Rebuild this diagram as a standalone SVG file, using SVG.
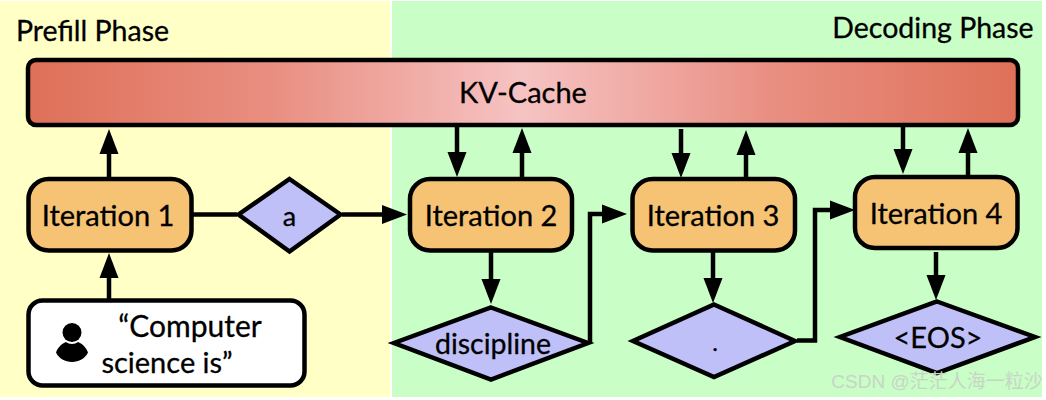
<svg xmlns="http://www.w3.org/2000/svg" width="1046" height="400" viewBox="0 0 1046 400">
<style>
text{font-family:"Lato","Noto Sans",sans-serif;fill:#000;text-anchor:middle;stroke:#000;stroke-width:.3}
.t{font-size:29px}
.box{fill:#f5c373;stroke:#000;stroke-width:4.500}
.dia{fill:#c0c0f8;stroke:#000;stroke-width:4.500;stroke-linejoin:miter}
.c{fill:none;stroke:#000;stroke-width:4.500;marker-end:url(#a)}
.p{fill:none;stroke:#000;stroke-width:4.500}
</style>
<defs>
<linearGradient id="g" x1="0" y1="0" x2="1" y2="0">
<stop offset="0" stop-color="#de7058"/><stop offset=".25" stop-color="#e98f82"/><stop offset=".5" stop-color="#f6c3c3"/><stop offset=".75" stop-color="#e98f82"/><stop offset="1" stop-color="#de7058"/>
</linearGradient>
<marker id="a" markerUnits="userSpaceOnUse" markerWidth="26" markerHeight="20" refX="0" refY="10" orient="auto" viewBox="0 0 26 20">
<path d="M0 0.5L25 10L0 19.5Z" fill="#000"/>
</marker>
</defs>
<rect width="1046" height="400" fill="#fff"/>
<rect x="0" y="1" width="390" height="396" fill="#ffffc6"/>
<rect x="392" y="1" width="650" height="396" fill="#c9ffc6"/>
<text id="prefill-label" x="92.500" y="41" font-size="28.500px">Prefill Phase</text>
<text id="decoding-label" x="933" y="38" font-size="28.500px">Decoding Phase</text>
<g id="connectors">
<path class="c" d="M109 178V154"/>
<path class="c" d="M109 299V278"/>
<path class="p" d="M192 214.500H237"/>
<path class="c" d="M342 214.500H382"/>
<path class="c" d="M457 125V152"/>
<path class="c" d="M522 178V153"/>
<path class="c" d="M491 252V279"/>
<path class="c" d="M590 343V214H602"/>
<path class="c" d="M681 129V153"/>
<path class="c" d="M746 178V155"/>
<path class="c" d="M713 252V278"/>
<path class="c" d="M797 340.500H815V210H830"/>
<path class="c" d="M903 125V149"/>
<path class="c" d="M968 175V153"/>
<path class="c" d="M936 252V275"/>
</g>
<g id="kv-cache"><rect x="28" y="60" width="990" height="65" rx="8" fill="url(#g)" stroke="#000" stroke-width="4.500"/><text class="t" x="523" y="103">KV-Cache</text></g>
<g id="iteration-1"><rect class="box" x="28.500" y="179" width="163" height="71.500" rx="20"/><text class="t" x="108" y="226">Iteration 1</text></g>
<g id="iteration-2"><rect class="box" x="410" y="179" width="162" height="71.500" rx="20"/><text class="t" x="491" y="226">Iteration 2</text></g>
<g id="iteration-3"><rect class="box" x="632.500" y="179" width="162.500" height="71.500" rx="20"/><text class="t" x="713" y="226">Iteration 3</text></g>
<g id="iteration-4"><rect class="box" x="855" y="177" width="162.500" height="71" rx="20"/><text class="t" x="936" y="224">Iteration 4</text></g>
<g id="input"><rect x="28.500" y="300.500" width="276" height="85" rx="14" fill="#fff" stroke="#000" stroke-width="4.500"/>
<circle cx="72" cy="332.500" r="9.500" fill="#000"/>
<path d="M56 352.500C58 347 62 343.500 66 342C69 344.500 75 344.500 78 342C82 343.500 86 347 88 352.500C85 358.500 79 362 72 362C65 362 59 358.500 56 352.500Z" fill="#000"/>
<text x="190" y="337" font-size="30px">“Computer</text><text class="t" x="167" y="373">science is”</text></g>
<g id="token-a"><path class="dia" d="M289.500 179L340.500 214.500L289.500 251.500L238.500 214.500Z"/><text x="289.500" y="226" font-size="27px">a</text></g>
<g id="token-discipline"><path class="dia" d="M491 307.500L588 343L491 379.500L394 343Z"/><text x="493" y="354" font-size="28.500px">discipline</text></g>
<g id="token-period"><path class="dia" d="M714 304.500L795 341L714 377L633 341Z"/><text font-size="24px" x="715" y="351">.</text></g>
<g id="token-eos"><path class="dia" d="M937 301.500L1035 337L937 373L840 337Z"/><text class="t" x="938" y="348">&lt;EOS&gt;</text></g>
<text id="watermark" x="937" y="388" style="fill:#c8d4c8;stroke:none;font-family:'Liberation Sans','Noto Sans CJK SC',sans-serif" font-size="19px">CSDN @茫茫人海一粒沙</text>
</svg>
